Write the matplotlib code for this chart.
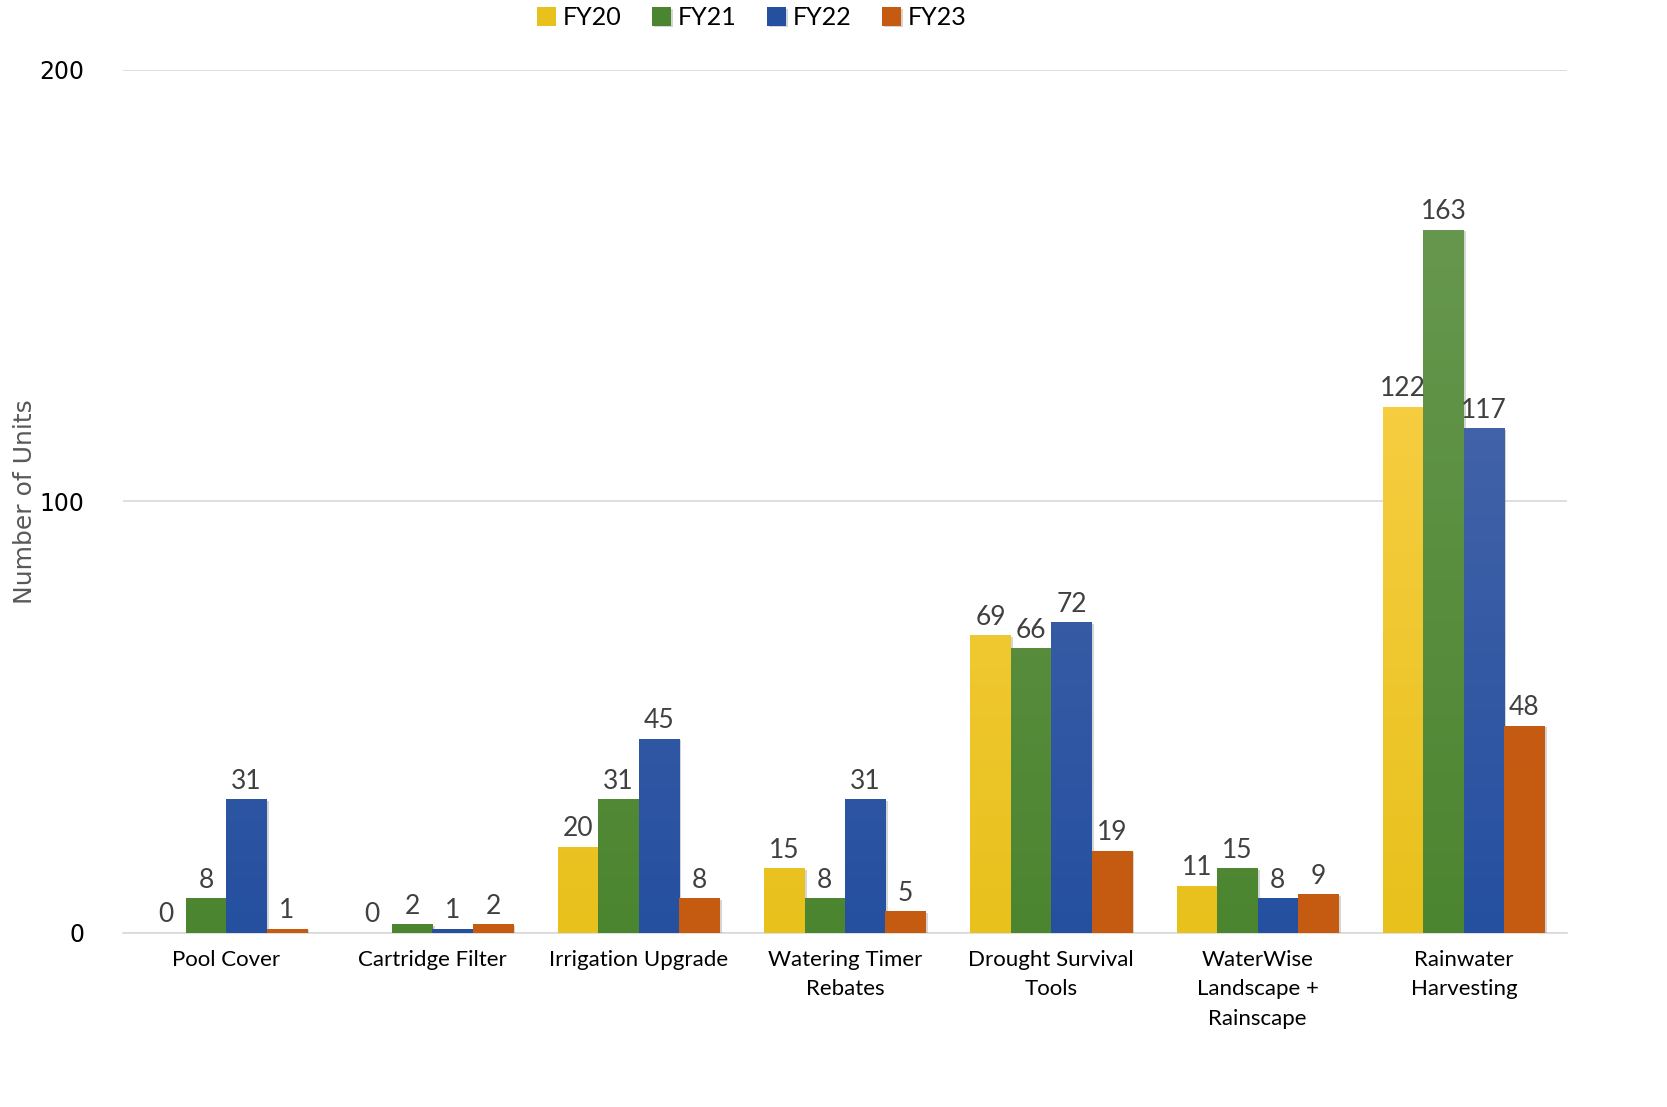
import matplotlib
matplotlib.use("Agg")
import matplotlib.pyplot as plt
import numpy as np
from matplotlib.colors import LinearSegmentedColormap
import matplotlib.patheffects as pe

categories = ["Pool Cover", "Cartridge Filter", "Irrigation Upgrade", "Watering Timer\nRebates",
              "Drought Survival\nTools", "WaterWise\nLandscape +\nRainscape", "Rainwater\nHarvesting"]
series_names = ["FY20", "FY21", "FY22", "FY23"]
fy20 = [0, 0, 20, 15, 69, 11, 122]
fy21 = [8, 2, 31, 8, 66, 15, 163]
fy22 = [31, 1, 45, 31, 72, 8, 117]
fy23 = [1, 2, 8, 5, 19, 9, 48]
yticks = [0, 100, 200]

series = [fy20, fy21, fy22, fy23]
# (top colour, bottom colour)
grads = [("#FFD557", "#E8C11C"), ("#6C9B54", "#4C8530"), ("#566FAE", "#2550A0"), ("#C95D16", "#C55A11")]

fig = plt.figure(figsize=(16.67, 11.07), dpi=100)
ax = fig.add_axes([0.0738, 0.1572, 0.8662, 0.7796])

x = np.arange(len(categories))
w = 0.196
offsets = [-1.5, -0.5, 0.5, 1.5]
lab_font = ['Lato', 'DejaVu Sans']
for si, (vals, (ctop, cbot)) in enumerate(zip(series, grads)):
    bars = ax.bar(x + offsets[si] * w, vals, width=w, color=cbot, label=series_names[si],
                  zorder=3, linewidth=0)
    cmap = LinearSegmentedColormap.from_list("g%d" % si, [cbot, ctop])
    grad = np.linspace(0, 1, 256).reshape(-1, 1)
    for b, v in zip(bars, vals):
        if v > 0:
            b.set_path_effects([pe.SimplePatchShadow(offset=(1.5, -1), shadow_rgbFace="#888888", alpha=0.35),
                                pe.Normal()])
            x0 = b.get_x()
            im = ax.imshow(grad, cmap=cmap, origin="lower", aspect="auto",
                           extent=[x0, x0 + b.get_width(), 0, 200], zorder=3.5,
                           interpolation="bilinear")
            im.set_clip_path(b)
        ax.annotate(str(v), (b.get_x() + b.get_width() / 2, v), xytext=(0, 4),
                    textcoords="offset points", ha="center", va="bottom",
                    fontsize=19, color="#404040", family=lab_font, zorder=5)

ax.set_xlim(-0.5, len(categories) - 0.5)
ax.set_ylim(0, 200)
ax.set_yticks(yticks)
ax.set_yticklabels([str(t) for t in yticks], fontsize=17, color="black", family=['DejaVu Sans'])
ax.set_xticks(x)
ax.set_xticklabels(categories, fontsize=16, color="black", family=lab_font, linespacing=1.6)
ax.tick_params(axis="both", length=0)
ax.tick_params(axis="y", pad=28)
ax.tick_params(axis="x", pad=12)
ax.grid(axis="y", color="#D9D9D9", linewidth=1.2, zorder=0)
ax.set_axisbelow(True)
for s in ["top", "right", "left"]:
    ax.spines[s].set_visible(False)
ax.spines["bottom"].set_color("#D9D9D9")
ax.spines["bottom"].set_linewidth(1.2)

fig.text(0.015, 0.547, "Number of Units", rotation=90, ha="center", va="center",
         fontsize=18, color="#595959", family=['Liberation Sans Narrow', 'DejaVu Sans'])

leg = fig.legend(*ax.get_legend_handles_labels(), loc="center", bbox_to_anchor=(0.451, 0.984),
                 ncol=4, frameon=False, handlelength=0.75, handleheight=0.75,
                 handletextpad=0.3, columnspacing=1.2, prop={'family': lab_font, 'size': 18})
for h, (ctop, cbot) in zip(leg.legend_handles, grads):
    h.set_color(cbot)

fig.savefig("out.png", dpi=100)
